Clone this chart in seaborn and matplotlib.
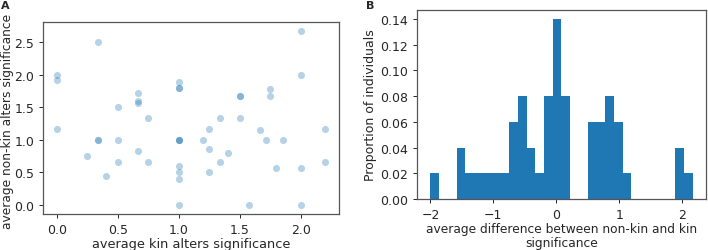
import numpy as np
import pandas as pd
import matplotlib
matplotlib.use("Agg")
import matplotlib.pyplot as plt
import seaborn as sns

# Panel A: average kin / non-kin alters significance per individual
kin = [0.0, 0.0, 0.0, 1/3, 1/3, 1/3, 0.25, 0.4, 0.5, 0.5, 0.5,
       2/3, 2/3, 2/3, 2/3, 0.75, 0.75,
       1.0, 1.0, 1.0, 1.0, 1.0, 1.0, 1.0, 1.0, 1.0, 1.0,
       1.2, 1.25, 1.25, 1.25, 4/3, 4/3, 1.4, 1.5, 1.5, 1.5,
       11/7, 5/3, 12/7, 1.75, 1.75, 1.8, 13/7,
       2.0, 2.0, 2.0, 2.0, 2.2, 2.2]
nonkin = [2.0, 23/12, 7/6, 2.5, 1.0, 1.0, 0.75, 0.45, 1.5, 1.0, 2/3,
          12/7, 1.6, 1.56, 5/6, 4/3, 2/3,
          17/9, 1.8, 1.8, 1.0, 1.0, 1.0, 0.6, 0.5, 0.4, 0.0,
          1.0, 7/6, 6/7, 0.5, 4/3, 2/3, 0.8, 5/3, 5/3, 4/3,
          0.0, 8/7, 1.0, 16/9, 5/3, 4/7, 1.0,
          8/3, 2.0, 4/7, 0.0, 7/6, 2/3]

df = pd.DataFrame({"kin": kin, "nonkin": nonkin})
# Panel B: difference between non-kin and kin significance
df["diff"] = df["nonkin"] - df["kin"]

text_col = "#262626"
spine_col = "#555555"
plt.rcParams.update({
    "font.family": ["DejaVu Sans"],
    "font.size": 9,
    "text.color": text_col,
    "axes.labelcolor": text_col,
    "xtick.color": text_col,
    "ytick.color": text_col,
    "axes.edgecolor": spine_col,
    "axes.linewidth": 0.9,
    "xtick.major.size": 3,
    "ytick.major.size": 3,
    "xtick.major.width": 0.7,
    "ytick.major.width": 0.7,
})

fig = plt.figure(figsize=(7.08, 2.51), dpi=100)
ax1 = fig.add_axes([0.0614, 0.1446, 0.417, 0.762])
ax2 = fig.add_axes([0.5894, 0.2032, 0.4073, 0.753])

sns.scatterplot(data=df, x="kin", y="nonkin", ax=ax1, color="#1f77b4",
                alpha=0.33, s=26, linewidth=0)
ax1.set_xlabel("average kin alters significance", fontsize=9.3, labelpad=1)
ax1.set_ylabel("average non-kin alters significance", fontsize=8.8)
ax1.yaxis.set_label_coords(-0.10, 0.49)
ax1.set_xticks([0.0, 0.5, 1.0, 1.5, 2.0])
ax1.set_yticks([0.0, 0.5, 1.0, 1.5, 2.0, 2.5])

sns.histplot(data=df, x="diff", bins=30, stat="proportion", ax=ax2,
             color="#1f77b4", alpha=1, linewidth=0, edgecolor="none")
ax2.set_xlabel("average difference between non-kin and kin\nsignificance",
               fontsize=8.8, labelpad=1, linespacing=1.05)
ax2.set_ylabel("Proportion of individuals", fontsize=9, labelpad=2)
ax2.set_xticks([-2, -1, 0, 1, 2])
ax2.set_yticks([0.0, 0.02, 0.04, 0.06, 0.08, 0.10, 0.12, 0.14])
ax2.set_yticklabels(["0.00", "0.02", "0.04", "0.06", "0.08", "0.10", "0.12", "0.14"])
ax2.set_ylim(0, 0.147)

fig.text(0.002, 0.995, "A", fontsize=8, fontweight="bold", va="top", ha="left")
fig.text(0.517, 0.998, "B", fontsize=8, fontweight="bold", va="top", ha="left")

fig.savefig("out.png", dpi=100)
